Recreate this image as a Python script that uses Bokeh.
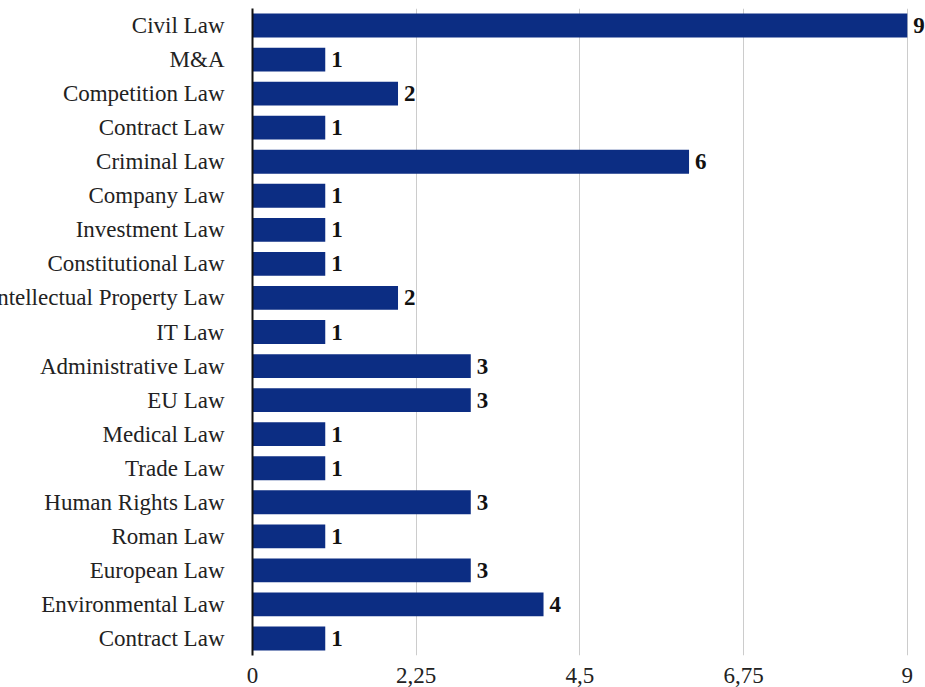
from bokeh.plotting import figure
from bokeh.models import ColumnDataSource, Range1d, FixedTicker, LabelSet
from bokeh.embed import file_html
from bokeh.resources import INLINE

categories = ["Civil Law", "M&A", "Competition Law", "Contract Law", "Criminal Law",
              "Company Law", "Investment Law", "Constitutional Law",
              "Intellectual Property Law", "IT Law", "Administrative Law", "EU Law",
              "Medical Law", "Trade Law", "Human Rights Law", "Roman Law",
              "European Law", "Environmental Law", "Contract Law"]
counts = [9, 1, 2, 1, 6, 1, 1, 1, 2, 1, 3, 3, 1, 1, 3, 1, 3, 4, 1]
x_ticks = [0, 2.25, 4.5, 6.75, 9]
x_tick_labels = ["0", "2,25", "4,5", "6,75", "9"]

FONT = "Liberation Serif"
BAR = "#0c2d83"

pos = list(range(len(categories)))
src = ColumnDataSource(dict(y=pos, v=counts, lab=[str(c) for c in counts]))

p = figure(frame_width=673, frame_height=647, output_backend="svg", toolbar_location=None,
           x_range=Range1d(0, 9.25), y_range=Range1d(len(categories) - 0.5, -0.5),
           min_border_top=8, min_border_right=0, min_border_left=0, min_border_bottom=36,
           styles={"margin-left": "-14px", "margin-bottom": "-48px", "margin-right": "-8px"})
p.outline_line_color = None
p.background_fill_color = "white"

p.hbar(y="y", right="v", left=0, height=0.7, source=src, color=BAR, line_color=None)

labels = LabelSet(x="v", y="y", text="lab", source=src, x_offset=6,
                  text_baseline="middle", text_align="left",
                  text_font=FONT, text_font_size="23px", text_font_style="bold",
                  text_color="#111111")
p.add_layout(labels)

p.xaxis.ticker = FixedTicker(ticks=x_ticks)
p.xaxis.major_label_overrides = {t: l for t, l in zip(x_ticks, x_tick_labels)}
p.xaxis.axis_line_color = None
p.xaxis.major_tick_line_color = None
p.xaxis.minor_tick_line_color = None
p.xaxis.major_label_text_font = FONT
p.xaxis.major_label_text_font_size = "23px"
p.xaxis.major_label_text_color = "#222222"
p.xaxis.major_label_standoff = 6

p.yaxis.ticker = FixedTicker(ticks=pos)
p.yaxis.major_label_overrides = {i: c for i, c in zip(pos, categories)}
p.yaxis.axis_line_color = "#111111"
p.yaxis.axis_line_width = 2
p.yaxis.major_tick_line_color = None
p.yaxis.minor_tick_line_color = None
p.yaxis.major_label_text_font = FONT
p.yaxis.major_label_text_font_size = "23px"
p.yaxis.major_label_text_color = "#222222"
p.yaxis.major_label_standoff = 22

p.xgrid.grid_line_color = "#cccccc"
p.xgrid.grid_line_width = 1
p.ygrid.grid_line_color = None

open("out.html", "w").write(file_html(p, INLINE))
